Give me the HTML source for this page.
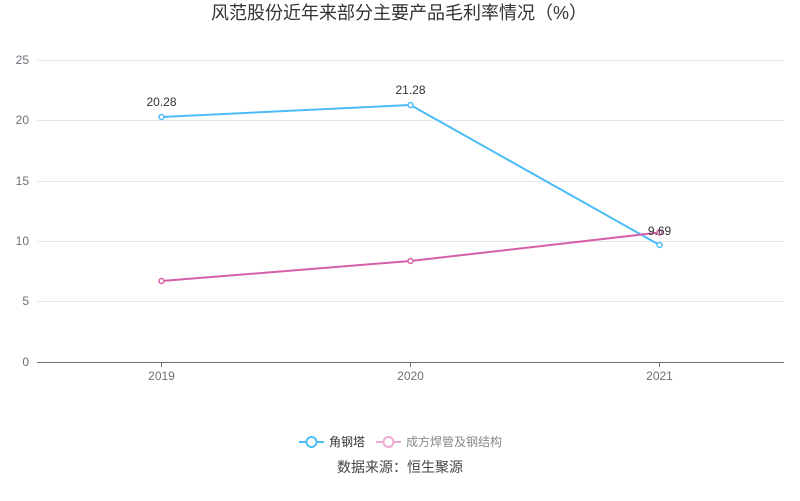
<!DOCTYPE html>
<html><head><meta charset="utf-8"><style>
html,body{margin:0;padding:0;background:#fff;}
svg{display:block;font-family:"Liberation Sans","Noto Sans CJK SC",sans-serif;}
</style></head><body>
<svg width="800" height="501" viewBox="0 0 800 501" xmlns="http://www.w3.org/2000/svg">
<text x="399" y="19" text-anchor="middle" font-size="18" fill="#333">风范股份近年来部分主要产品毛利率情况（%）</text>
<g stroke="#e0e6f1" stroke-width="1">
<line x1="37" y1="60.5" x2="784" y2="60.5"/>
<line x1="37" y1="120.5" x2="784" y2="120.5"/>
<line x1="37" y1="181.5" x2="784" y2="181.5"/>
<line x1="37" y1="241.5" x2="784" y2="241.5"/>
<line x1="37" y1="301.5" x2="784" y2="301.5"/>
</g>
<line x1="37" y1="362.5" x2="784" y2="362.5" stroke="#6e7079" stroke-width="1"/>
<g stroke="#6e7079" stroke-width="1">
<line x1="161.5" y1="362" x2="161.5" y2="367"/>
<line x1="410.5" y1="362" x2="410.5" y2="367"/>
<line x1="659.5" y1="362" x2="659.5" y2="367"/>
</g>
<g font-size="12" fill="#6e7079" text-anchor="end">
<text x="29" y="64">25</text>
<text x="29" y="124">20</text>
<text x="29" y="185">15</text>
<text x="29" y="245">10</text>
<text x="29" y="305">5</text>
<text x="29" y="366">0</text>
</g>
<g font-size="12" fill="#6e7079" text-anchor="middle">
<text x="161.5" y="380">2019</text>
<text x="410.5" y="380">2020</text>
<text x="659.5" y="380">2021</text>
</g>
<polyline points="161.5,117 410.5,105 659.5,245" fill="none" stroke="#4bbcf6" stroke-width="2"/>
<polyline points="161.5,281 410.5,261 659.5,232.5" fill="none" stroke="#d660a8" stroke-width="2"/>
<g fill="#fff" stroke="#4bbcf6" stroke-width="1.5">
<circle cx="161.5" cy="117" r="2.5"/><circle cx="410.5" cy="105" r="2.5"/><circle cx="659.5" cy="245" r="2.5"/>
</g>
<g fill="#fff" stroke="#d660a8" stroke-width="1.5">
<circle cx="161.5" cy="281" r="2.5"/><circle cx="410.5" cy="261" r="2.5"/><circle cx="659.5" cy="232.5" r="2.5"/>
</g>
<g font-size="12" fill="#333" text-anchor="middle">
<text x="161.5" y="106">20.28</text>
<text x="410.5" y="94">21.28</text>
<text x="659.5" y="235">9.69</text>
</g>
<g>
<line x1="299" y1="442" x2="324" y2="442" stroke="#4bbcf6" stroke-width="2"/>
<circle cx="311.5" cy="442" r="5" fill="#fff" stroke="#4bbcf6" stroke-width="2"/>
<text x="329" y="446" font-size="12" fill="#333">角钢塔</text>
<line x1="376" y1="442" x2="401" y2="442" stroke="#eeaad2" stroke-width="2"/>
<circle cx="388.5" cy="442" r="5" fill="#fff" stroke="#eeaad2" stroke-width="2"/>
<text x="406" y="446" font-size="12" fill="#888">成方焊管及钢结构</text>
</g>
<text x="400" y="472" text-anchor="middle" font-size="14" fill="#444">数据来源：恒生聚源</text>
</svg>
</body></html>
